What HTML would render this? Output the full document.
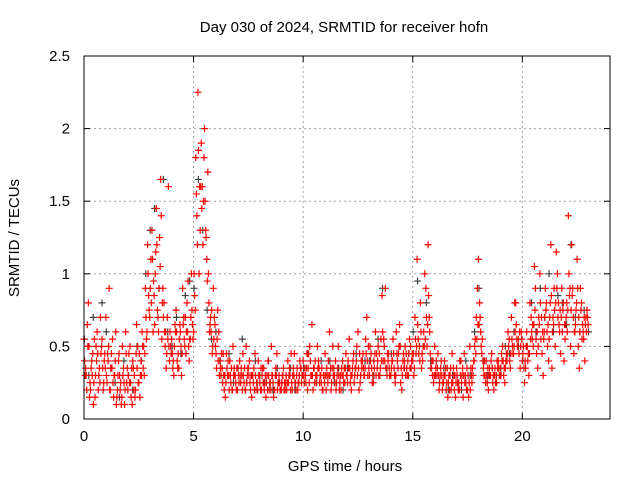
<!DOCTYPE html>
<html><head><meta charset="utf-8"><style>
body{margin:0;background:#fff}
svg{display:block;font-family:"Liberation Sans",sans-serif}
</style></head><body>
<svg id="c" width="640" height="480">
<text x="344" y="32" text-anchor="middle" font-size="15">Day 030 of 2024, SRMTID for receiver hofn</text>
<text x="19" y="238" text-anchor="middle" font-size="15" transform="rotate(-90 19 238)">SRMTID / TECUs</text>
<text x="345" y="471" text-anchor="middle" font-size="15">GPS time / hours</text>
<g id="grid"></g>
<g id="ticks"></g>
<g id="gray"></g>
<g id="red"></g>
<rect x="84" y="56" width="526" height="363" fill="none" stroke="#000" stroke-width="1"/>
</svg>
<script>
const xTicks=[0,5,10,15,20];
const yTicks=[0,0.5,1,1.5,2,2.5];
const yTickLabels=["0","0.5","1","1.5","2","2.5"];
const redAStart=0, redAStep=0.1;
const redA=[.55,.3,.8,.2,.45,.15,.6,.35,.5,.25,
.7,.4,.2,.55,.3,.15,.45,.1,.35,.6,
.2,.5,.1,.3,.65,.25,.4,.35,.9,1.2,
.7,1.3,.85,1.45,.6,1.65,.9,.5,.7,.4,
.55,.3,.75,.45,.6,.9,.5,.8,.4,1.0,
.6,1.8,2.25,1.3,1.6,2.0,1.1,.8,.6,.9,
.5,.75,.4,.35,.2,.45,.3,.25,.5,.3,
.2,.4,.3,.25,.5,.35,.2,.3,.45,.25,
.3,.2,.35,.15,.4,.25,.3,.2,.45,.3,
.2,.35,.25,.4,.3,.2,.45,.3,.25,.35,
.4,.3,.2,.5,.65,.35,.25,.4,.3,.2,
.45,.3,.6,.25,.35,.2,.5,.3,.4,.25,
.3,.55,.2,.45,.35,.6,.25,.4,.3,.7,
.35,.45,.25,.6,.4,.3,.85,.5,.35,.45,
.3,.55,.25,.4,.65,.2,.35,.45,.3,.5,
.4,.7,1.1,.5,.35,.6,.9,1.2,.45,.3,
.5,.3,.2,.4,.25,.35,.15,.3,.45,.2,
.35,.25,.4,.15,.3,.2,.5,.25,.4,.7,
1.1,.6,.4,.3,.25,.35,.45,.2,.3,.4,
.35,.5,.25,.4,.55,.7,.45,.8,.5,.35,
.4,.25,.6,.3,.7,.5,.9,.35,1.0,.45,
.6,.8,.4,1.2,.7,.5,1.0,.6,.9,.4,
.7,1.4,.5,.9,.6,1.1,.35,.8,.55,.7,.65];
const redBStart=0.05, redBStep=0.1;
const redB=[.3,.65,.15,.4,.25,.5,.2,.7,.35,.45,
.25,.9,.45,.15,.6,.3,.2,.5,.1,.25,
.45,.15,.35,.2,.5,.15,.6,.3,.55,.85,
1.1,.6,1.0,.75,1.25,.55,.8,.35,1.6,.5,
.35,.65,.4,.55,.3,.7,.45,.95,.55,.65,
.85,1.4,1.0,1.9,1.5,1.3,1.7,.65,.45,.7,
.35,.6,.3,.45,.15,.3,.4,.2,.35,.2,
.3,.25,.45,.2,.3,.4,.15,.35,.2,.4,
.2,.35,.25,.3,.2,.5,.15,.35,.25,.2,
.3,.25,.2,.3,.45,.35,.25,.2,.4,.3,
.25,.35,.45,.3,.2,.4,.5,.25,.35,.3,
.2,.4,.35,.5,.25,.3,.2,.35,.25,.45,
.4,.25,.35,.3,.5,.2,.4,.35,.55,.3,
.5,.25,.35,.45,.3,.55,.4,.9,.45,.3,
.4,.35,.6,.45,.25,.4,.5,.3,.55,.4,
.3,.45,.55,.8,.4,1.0,.5,.7,.35,.25,
.35,.45,.3,.2,.4,.25,.3,.2,.35,.15,
.25,.4,.3,.45,.2,.15,.35,.3,.55,.9,
.8,.45,.3,.4,.2,.3,.25,.35,.4,.3,
.45,.3,.4,.6,.35,.5,.8,.55,.45,.6,
.5,.35,.4,.8,.55,1.05,.45,.7,.55,.3,
.9,.5,.7,.35,.9,1.15,.8,.45,.75,.55,
.6,.85,1.2,.45,.75,.5,.9,.65,.4,.75];
const redCStart=0.025, redCStep=0.1;
const redC=[.4,.2,.5,.35,.1,.3,.45,.25,.55,.4,
.3,.5,.35,.25,.4,.2,.3,.15,.25,.45,
.3,.25,.4,.15,.35,.45,.3,.5,.7,1.0,
.9,1.1,.65,1.2,.9,1.4,.7,.6,.55,.6,
.45,.5,.6,.35,.5,.65,.7,.6,.55,.75,
1.0,1.55,1.85,1.6,1.2,1.5,.95,.6,.75,.55,
.45,.4,.35,.25,.3,.35,.2,.35,.3,.25,
.35,.3,.2,.35,.25,.3,.3,.25,.3,.2,
.25,.3,.2,.25,.3,.2,.25,.3,.2,.25,
.25,.2,.3,.25,.2,.3,.25,.35,.3,.25,
.3,.25,.35,.4,.3,.25,.3,.35,.25,.3,
.3,.25,.3,.35,.3,.25,.3,.2,.3,.35,
.25,.35,.3,.25,.4,.35,.3,.45,.35,.4,
.3,.35,.4,.3,.5,.35,.6,.4,.3,.35,
.35,.45,.3,.35,.5,.3,.4,.35,.45,.35,
.45,.55,.65,.4,.45,.5,.7,.85,.35,.4,
.3,.35,.25,.3,.3,.2,.25,.35,.25,.3,
.3,.2,.25,.3,.25,.3,.2,.35,.5,.55,
.65,.5,.35,.25,.35,.3,.35,.3,.25,.35,
.3,.4,.35,.45,.4,.55,.5,.65,.55,.5,
.45,.4,.5,.45,.6,.65,.55,.5,.8,.6,
.7,.6,.55,.85,.65,.8,.7,.75,.6,.65,
.8,1.0,.75,.7,.65,.9,.6,.55,.7,.6];
const redDStart=0.075, redDStep=0.1;
const redD=[.35,.5,.25,.3,.55,.4,.3,.45,.2,.35,
.45,.2,.35,.3,.1,.4,.25,.3,.2,.35,
.25,.35,.2,.45,.25,.3,.5,.45,.6,.75,
.8,.95,1.15,.7,1.05,.8,.6,.45,.5,.45,
.4,.6,.35,.65,.45,.55,.6,.5,.7,.55,
.75,1.2,1.6,1.45,1.8,1.25,1.0,.7,.5,.65,
.55,.3,.45,.3,.25,.4,.3,.2,.3,.35,
.25,.35,.3,.2,.35,.25,.3,.2,.25,.3,
.35,.25,.3,.2,.25,.3,.2,.3,.25,.2,
.3,.2,.25,.35,.25,.3,.2,.25,.35,.3,
.35,.45,.25,.3,.35,.3,.35,.3,.2,.25,
.35,.3,.2,.3,.4,.35,.25,.3,.35,.3,
.35,.3,.4,.35,.3,.45,.35,.3,.45,.5,
.4,.3,.45,.35,.45,.4,.55,.35,.4,.3,
.4,.3,.45,.5,.35,.45,.3,.4,.35,.45,
.35,.5,.45,.6,.5,.55,.65,.6,.4,.3,
.4,.3,.35,.25,.3,.35,.2,.25,.3,.25,
.2,.3,.35,.25,.35,.25,.3,.4,.45,.65,
.7,.55,.4,.3,.3,.4,.3,.25,.35,.3,
.4,.35,.45,.5,.45,.45,.6,.5,.6,.55,
.35,.5,.45,.55,.65,.75,.6,.65,.7,.55,
.75,.65,.8,.6,.75,.9,.65,.7,.8,.65,
.75,.9,.85,.6,.8,.7,.75,.6,.65,.7];
const grayStart=0.02, grayStep=0.2;
const gray=[.55,.3,.7,.45,.8,.6,.35,.25,.15,.4,.3,.2,.5,.4,1.0,
1.3,1.45,.9,1.65,.6,.5,.7,.45,.85,.95,.9,1.65,1.3,.75,.55,
.6,.4,.3,.45,.25,.35,.55,.25,.3,.4,.3,.25,.4,.2,.35,.25,.3,.35,.2,.3,
.35,.45,.3,.25,.4,.3,.4,.25,.35,.2,.35,.3,.45,.3,.4,.4,.3,.55,.9,.35,
.45,.3,.5,.35,.45,.6,.95,.45,.8,.4,.3,.25,.35,.2,.3,.3,.2,.4,.3,.6,
.9,.4,.3,.35,.3,.35,.5,.45,.6,.5,.4,.5,.8,.6,.9,.7,1.0,.6,.85,.8,
.65,1.2,.7,.6,.75,.6];
const X0=84,X1=610,Y0=419,Y1=56,XMAX=24,YMAX=2.5;
const sx=v=>X0+(X1-X0)*v/XMAX;
const sy=v=>Y0-(Y0-Y1)*v/YMAX;
const NS="http://www.w3.org/2000/svg";
function mk(tag,attrs,parent){const e=document.createElementNS(NS,tag);for(const k in attrs)e.setAttribute(k,attrs[k]);parent.appendChild(e);return e;}
const grid=document.getElementById('grid'),ticks=document.getElementById('ticks');
xTicks.forEach(t=>{const x=sx(t);
 if(t>0){const l=mk('line',{x1:x,x2:x,y1:Y1,y2:Y0,stroke:'#a0a0a0','stroke-dasharray':'2,3'},grid);}
 mk('line',{x1:x,x2:x,y1:Y0,y2:Y0-6,stroke:'#000'},ticks);mk('line',{x1:x,x2:x,y1:Y1,y2:Y1+6,stroke:'#000'},ticks);
 const tx=mk('text',{x:x,y:Y0+22,'text-anchor':'middle','font-size':'15'},ticks);tx.textContent=t;
 });
yTicks.forEach((t,i)=>{const y=sy(t);
 if(t>0&&t<YMAX){const l=mk('line',{x1:X0,x2:X1,y1:y,y2:y,stroke:'#a0a0a0','stroke-dasharray':'2,3'},grid);}
 mk('line',{x1:X0,x2:X0+6,y1:y,y2:y,stroke:'#000'},ticks);mk('line',{x1:X1,x2:X1-6,y1:y,y2:y,stroke:'#000'},ticks);
 const tx=mk('text',{x:X0-14,y:y+5,'text-anchor':'end','font-size':'15'},ticks);tx.textContent=yTickLabels[i];
 });
function plot(vals,start,step,g,col,nm){let d='';vals.forEach((v,i)=>{const x=sx(start+i*step),y=sy(v);d+=`M${x-3.5},${y}h7M${x},${y-3.5}v7`;});
 const p=mk('path',{d:d,stroke:col,'stroke-width':'1.2',fill:'none'},g);}
plot(gray,grayStart,grayStep,document.getElementById('gray'),'#404040','gray-points');
plot(redA,redAStart,redAStep,document.getElementById('red'),'#ff0000','red-points-a');
plot(redB,redBStart,redBStep,document.getElementById('red'),'#ff0000','red-points-b');
plot(redC,redCStart,redCStep,document.getElementById('red'),'#ff0000','red-points-c');
plot(redD,redDStart,redDStep,document.getElementById('red'),'#ff0000','red-points-d');
</script>
</body></html>
